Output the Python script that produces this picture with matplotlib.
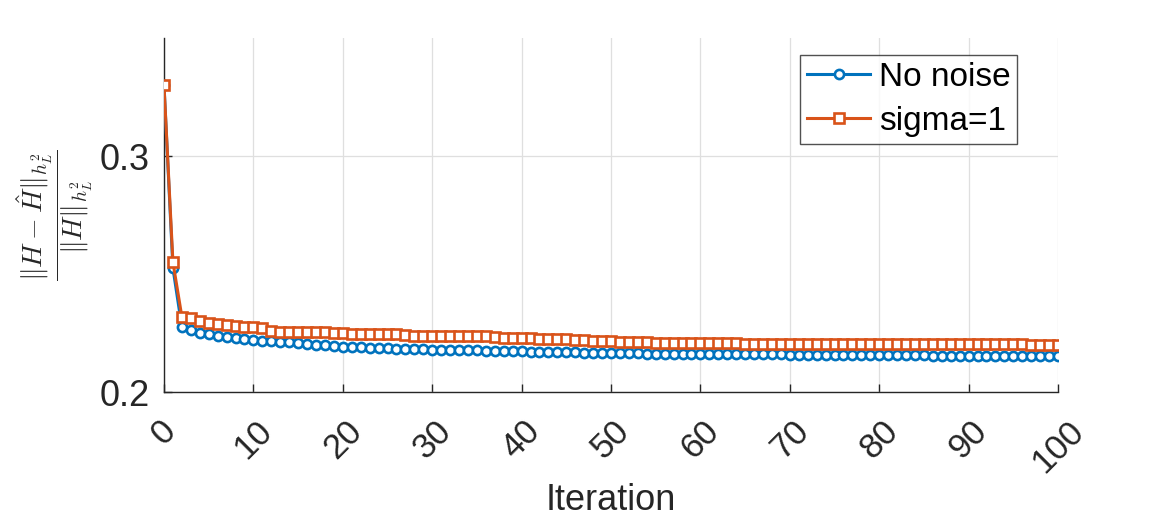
"""Relative error vs iteration, two noise settings (MATLAB-style look)."""
import matplotlib
matplotlib.use("Agg")
import matplotlib.pyplot as plt

# Data
iters = list(range(0, 101))

no_noise = [
    0.3300, 0.2525, 0.2275, 0.2262, 0.2252, 0.2244, 0.2238, 0.2233, 0.2229, 0.2225,
    0.2221, 0.2218, 0.2215, 0.2212, 0.2210, 0.2207, 0.2204, 0.2201, 0.2198, 0.2195,
    0.2192, 0.2191, 0.2189, 0.2188, 0.2186, 0.2185, 0.2184, 0.2183, 0.2182, 0.2181,
    0.2180, 0.2179, 0.2178, 0.2178, 0.2177, 0.2176, 0.2175, 0.2174, 0.2174, 0.2173,
    0.2172, 0.2171, 0.2171, 0.2170, 0.2169, 0.2168, 0.2168, 0.2167, 0.2166, 0.2166,
    0.2165, 0.2165, 0.2164, 0.2164, 0.2163, 0.2163, 0.2163, 0.2162, 0.2162, 0.2162,
    0.2161, 0.2161, 0.2161, 0.2160, 0.2160, 0.2160, 0.2160, 0.2159, 0.2159, 0.2159,
    0.2158, 0.2158, 0.2158, 0.2157, 0.2157, 0.2157, 0.2157, 0.2156, 0.2156, 0.2156,
    0.2156, 0.2155, 0.2155, 0.2155, 0.2155, 0.2155, 0.2154, 0.2154, 0.2154, 0.2154,
    0.2154, 0.2154, 0.2153, 0.2153, 0.2153, 0.2153, 0.2153, 0.2153, 0.2153, 0.2153,
    0.2153,
]

sigma_1 = [
    0.3300, 0.2550, 0.2318, 0.2312, 0.2302, 0.2294, 0.2290, 0.2283, 0.2280, 0.2277,
    0.2274, 0.2270, 0.2260, 0.2256, 0.2255, 0.2254, 0.2254, 0.2253, 0.2253, 0.2252,
    0.2252, 0.2247, 0.2246, 0.2246, 0.2245, 0.2245, 0.2245, 0.2240, 0.2239, 0.2239,
    0.2238, 0.2238, 0.2237, 0.2237, 0.2236, 0.2236, 0.2236, 0.2231, 0.2230, 0.2229,
    0.2228, 0.2227, 0.2226, 0.2225, 0.2224, 0.2223, 0.2222, 0.2222, 0.2214, 0.2214,
    0.2214, 0.2210, 0.2210, 0.2210, 0.2210, 0.2209, 0.2209, 0.2209, 0.2206, 0.2206,
    0.2206, 0.2206, 0.2206, 0.2206, 0.2206, 0.2205, 0.2205, 0.2205, 0.2205, 0.2205,
    0.2205, 0.2205, 0.2205, 0.2202, 0.2202, 0.2202, 0.2202, 0.2202, 0.2202, 0.2202,
    0.2202, 0.2202, 0.2202, 0.2202, 0.2202, 0.2202, 0.2202, 0.2202, 0.2202, 0.2202,
    0.2202, 0.2202, 0.2202, 0.2202, 0.2202, 0.2202, 0.2202, 0.2198, 0.2198, 0.2198,
    0.2198,
]

series_labels = ["No noise", "sigma=1"]
x_ticks = list(range(0, 101, 10))
y_ticks = [0.2, 0.3]

BLUE = "#0072BD"
ORANGE = "#D95319"
INK = "#262626"

plt.rcParams.update({
    "font.family": ["Liberation Sans", "DejaVu Sans"],
    "mathtext.fontset": "cm",
})

fig = plt.figure(figsize=(11.67, 5.25), dpi=100)
ax = fig.add_axes([164 / 1167, 133 / 525, 894 / 1167, 354 / 525])

ax.plot(iters, no_noise, color=BLUE, linewidth=2.2, marker="o", markersize=6.6,
        markerfacecolor="white", markeredgewidth=1.9, label=series_labels[0], zorder=3)
ax.plot(iters, sigma_1, color=ORANGE, linewidth=2.2, marker="s", markersize=7.4,
        markerfacecolor="white", markeredgewidth=1.9, label=series_labels[1], zorder=4)

ax.set_xlim(0, 100)
ax.set_ylim(0.2, 0.35)
ax.set_xticks(x_ticks)
ax.set_yticks(y_ticks)
ax.set_xticklabels([str(t) for t in x_ticks], rotation=45, ha="center", va="top",
                   fontsize=25, color=INK)
ax.set_yticklabels([f"{t:.1f}" for t in y_ticks], fontsize=26, color=INK)
ax.tick_params(direction="in", length=6, width=1, colors=INK)
ax.tick_params(axis="x", pad=16)
ax.tick_params(axis="y", pad=10)

ax.grid(True, color="#dfdfdf", linewidth=0.9)
ax.set_axisbelow(True)
ax.spines["top"].set_visible(False)
ax.spines["right"].set_visible(False)
for s in ("left", "bottom"):
    ax.spines[s].set_color(INK)
    ax.spines[s].set_linewidth(1.0)

ax.set_xlabel("Iteration", fontsize=26, color=INK)
ax.xaxis.set_label_coords(0.5, -0.257)
ax.set_ylabel(r"$\dfrac{\|H-\hat{H}\|_{h^2_L}}{\|H\|_{h^2_L}}$", fontsize=20,
              color=INK)
ax.yaxis.set_label_coords(-0.077, 0.5)

leg = ax.legend(loc="upper right", bbox_to_anchor=(1 - 41 / 894, 1 - 17 / 354),
                fontsize=24, frameon=True, fancybox=False, borderpad=0.2,
                handlelength=1.9, handletextpad=0.25, labelspacing=0.4,
                borderaxespad=0)
leg.get_frame().set_edgecolor(INK)
leg.get_frame().set_linewidth(1.0)

fig.savefig("out.png", dpi=100)
